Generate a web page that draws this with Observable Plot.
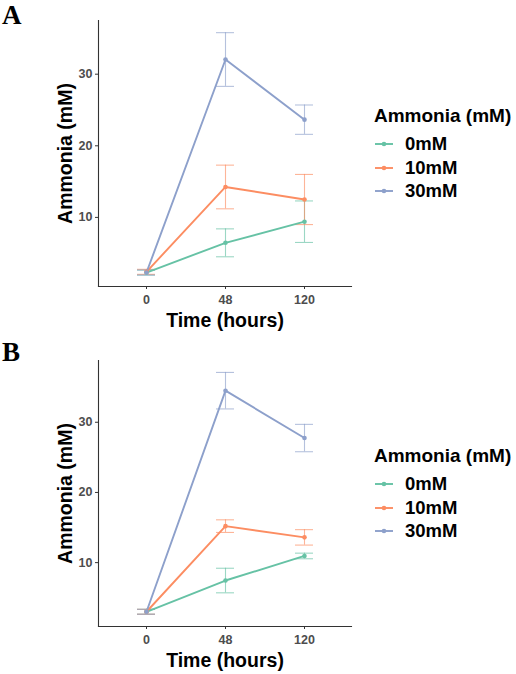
<!DOCTYPE html>
<html>
<head>
<meta charset="utf-8">
<script src="https://cdn.jsdelivr.net/npm/d3@7"></script>
<script src="https://cdn.jsdelivr.net/npm/@observablehq/plot@0.6"></script>
<style>
  html, body { margin: 0; padding: 0; background: #fff; }
  #wrap { position: relative; width: 516px; height: 674px; background: #fff; overflow: hidden; font-family: "Liberation Sans", Arial, sans-serif; }
  .panel { position: absolute; left: 0; width: 516px; height: 337px; }
  .letter { position: absolute; left: 2px; font-family: "Liberation Serif", "Times New Roman", serif; font-weight: bold; font-size: 27px; line-height: 27px; color: #000; }
  .legend { position: absolute; left: 374px; font-weight: bold; color: #000; }
  .legend .title { position: absolute; left: 0; font-size: 19px; line-height: 22px; white-space: nowrap; }
  .legend .item { position: absolute; left: 0; font-size: 18.5px; line-height: 22px; white-space: nowrap; display: flex; align-items: center; }
  .legend .item svg { margin-right: 11px; }
</style>
</head>
<body>
<div id="wrap"></div>
<script>
// ---- data ----
const times = ["0", "48", "120"];
const groups = ["0mM", "10mM", "30mM"];
const colors = ["#66c2a5", "#fc8d62", "#8da0cb"];

// Panel A: means and error half-widths, per group, at times 0/48/120
const meanA_0mM  = [2.3, 6.45, 9.4];
const meanA_10mM = [2.4, 14.25, 12.5];
const meanA_30mM = [2.3, 32.05, 23.65];
const errA_0mM   = [0.35, 1.95, 2.9];
const errA_10mM  = [0.35, 3.05, 3.5];
const errA_30mM  = [0.35, 3.75, 2.05];

// Panel B
const meanB_0mM  = [3.0, 7.45, 10.95];
const meanB_10mM = [3.0, 15.2, 13.6];
const meanB_30mM = [3.0, 34.5, 27.75];
const errB_0mM   = [0.35, 1.75, 0.4];
const errB_10mM  = [0.35, 0.9, 1.1];
const errB_30mM  = [0.35, 2.6, 1.95];

const yTicks = [10, 20, 30];
const xTitle = "Time (hours)";
const yTitle = "Ammonia (mM)";
const legendTitle = "Ammonia (mM)";

function rows(means, errs) {
  const out = [];
  groups.forEach((g, gi) => {
    times.forEach((t, ti) => {
      out.push({ group: g, time: t, mean: means[gi][ti], err: errs[gi][ti] });
    });
  });
  return out;
}

const dataA = rows([meanA_0mM, meanA_10mM, meanA_30mM], [errA_0mM, errA_10mM, errA_30mM]);
const dataB = rows([meanB_0mM, meanB_10mM, meanB_30mM], [errB_0mM, errB_10mM, errB_30mM]);

function chart(data, yDomain, marginTop, marginBottom) {
  const lo = d => d.mean - d.err;
  const hi = d => d.mean + d.err;
  const ebStyle = { stroke: "group", strokeOpacity: 0.65, strokeWidth: 1.1 };
  return Plot.plot({
    width: 516,
    height: 337,
    marginLeft: 98,
    marginRight: 165,
    marginTop,
    marginBottom,
    style: { fontFamily: "'Liberation Sans', Arial, sans-serif", background: "transparent", overflow: "visible" },
    x: { type: "band", domain: times, paddingInner: 0.775, paddingOuter: 0.47, label: null },
    y: { domain: yDomain, label: null },
    color: { domain: groups, range: colors },
    marks: [
      Plot.frame({ anchor: "left", stroke: "#333", strokeWidth: 1.1 }),
      Plot.frame({ anchor: "bottom", stroke: "#333", strokeWidth: 1.1 }),
      Plot.axisX({ tickSize: 3, tickPadding: 6, fontSize: 12.5, fontWeight: "bold", stroke: "#333", fill: "#4d4d4d", label: null }),
      Plot.axisY({ ticks: yTicks, tickSize: 3, tickPadding: 3, fontSize: 12.5, fontWeight: "bold", stroke: "#333", fill: "#4d4d4d", label: null }),
      Plot.ruleX(data, { x: "time", y1: lo, y2: hi, ...ebStyle }),
      Plot.tickY(data, { x: "time", y: lo, ...ebStyle }),
      Plot.tickY(data, { x: "time", y: hi, ...ebStyle }),
      Plot.line(data, { x: "time", y: "mean", z: "group", stroke: "group", strokeWidth: 1.9 }),
      Plot.dot(data, { x: "time", y: "mean", fill: "group", r: 2.3 }),
      Plot.text([xTitle], { frameAnchor: "bottom", dy: 34, lineAnchor: "middle", textAnchor: "middle", text: d => d, fontSize: 19.5, fontWeight: "bold", fill: "#000" }),
      Plot.text([yTitle], { frameAnchor: "left", dx: -33, rotate: -90, lineAnchor: "middle", textAnchor: "middle", text: d => d, fontSize: 19.5, fontWeight: "bold", fill: "#000" })
    ]
  });
}

function legend(top) {
  const div = document.createElement("div");
  div.className = "legend";
  div.style.top = top + "px";
  const t = document.createElement("div");
  t.className = "title";
  t.style.top = "-11px";
  t.textContent = legendTitle;
  div.appendChild(t);
  const offsets = [28, 52, 75];
  groups.forEach((g, i) => {
    const it = document.createElement("div");
    it.className = "item";
    it.style.top = (offsets[i] - 11) + "px";
    it.innerHTML = `<svg width="20" height="10" style="display:block"><line x1="1" x2="19" y1="5" y2="5" stroke="${colors[i]}" stroke-width="1.9"/><circle cx="10" cy="5" r="2.3" fill="${colors[i]}"/></svg><span>${g}</span>`;
    div.appendChild(it);
  });
  return div;
}

const wrap = document.getElementById("wrap");

function panel(top, letter, data, yDomain, mt, mb, legendTop) {
  const p = document.createElement("div");
  p.className = "panel";
  p.style.top = top + "px";
  p.appendChild(chart(data, yDomain, mt, mb));
  wrap.appendChild(p);
  const l = document.createElement("div");
  l.className = "letter";
  l.style.top = (top + 2) + "px";
  l.textContent = letter;
  wrap.appendChild(l);
  wrap.appendChild(legend(legendTop));
}

panel(0, "A", dataA, [0.35, 37.5], 20, 51, 116);
panel(337, "B", dataB, [0.9, 38.8], 23, 48, 456);
</script>
</body>
</html>
